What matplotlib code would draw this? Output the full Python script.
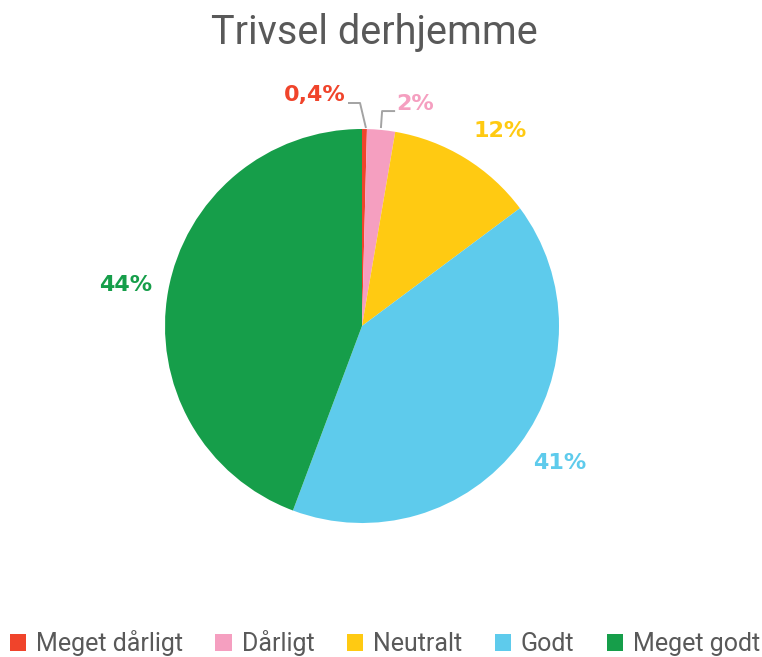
import matplotlib
matplotlib.use("Agg")
import matplotlib.pyplot as plt
import numpy as np
from matplotlib.patches import Patch

categories = ["Meget dårligt", "Dårligt", "Neutralt", "Godt", "Meget godt"]
values = [0.4, 2.3, 12.1, 40.9, 44.3]
labels = ["0,4%", "2%", "12%", "41%", "44%"]
colors = ["#F0442B", "#F59FC0", "#FFCA12", "#5ECBEC", "#169E4A"]

# label anchor positions (in pie-radius units)
label_pos = [(-0.239, 1.172), (0.269, 1.127), (0.701, 0.992), (1.005, -0.695), (-1.198, 0.208)]

W, H = 762, 657
fig = plt.figure(figsize=(W / 100, H / 100), dpi=100)
cx, cy, r = 362, 331, 197
ax = fig.add_axes([(cx - r) / W, (cy - r) / H, 2 * r / W, 2 * r / H])
ax.pie(values, colors=colors, startangle=90, counterclock=False, radius=1,
       wedgeprops=dict(linewidth=0))
ax.set_xlim(-1, 1)
ax.set_ylim(-1, 1)
ax.set_aspect("equal")
ax.axis("off")

grey = "#A3A3A3"
for lab, col, (lx, ly) in zip(labels, colors, label_pos):
    ax.text(lx, ly, lab, color=col, fontsize=16, fontweight="bold",
            ha="center", va="center", family="DejaVu Sans")
# leader lines for the small slices
ax.plot([-0.071, -0.010, 0.020], [1.132, 1.132, 1.005], color=grey, lw=1.4,
        clip_on=False, solid_capstyle="butt")
ax.plot([0.096, 0.102, 0.168], [1.005, 1.091, 1.091], color=grey, lw=1.4,
        clip_on=False, solid_capstyle="butt")

fig.text(374 / W, 1 - 33 / H, "Trivsel derhjemme", ha="center", va="center",
         fontsize=28.5, color="#595959", family="Roboto")

handles = [Patch(facecolor=c, edgecolor="none") for c in colors]
leg = fig.legend(handles, categories, loc="center", bbox_to_anchor=(385 / W, 1 - 643 / H),
                 ncol=5, frameon=False, handlelength=0.65,
                 handleheight=0.65, handletextpad=0.4, columnspacing=1.3,
                 prop=dict(family="Roboto", size=18))
for t in leg.get_texts():
    t.set_color("#595959")

fig.savefig("out.png", dpi=100, facecolor="white")
